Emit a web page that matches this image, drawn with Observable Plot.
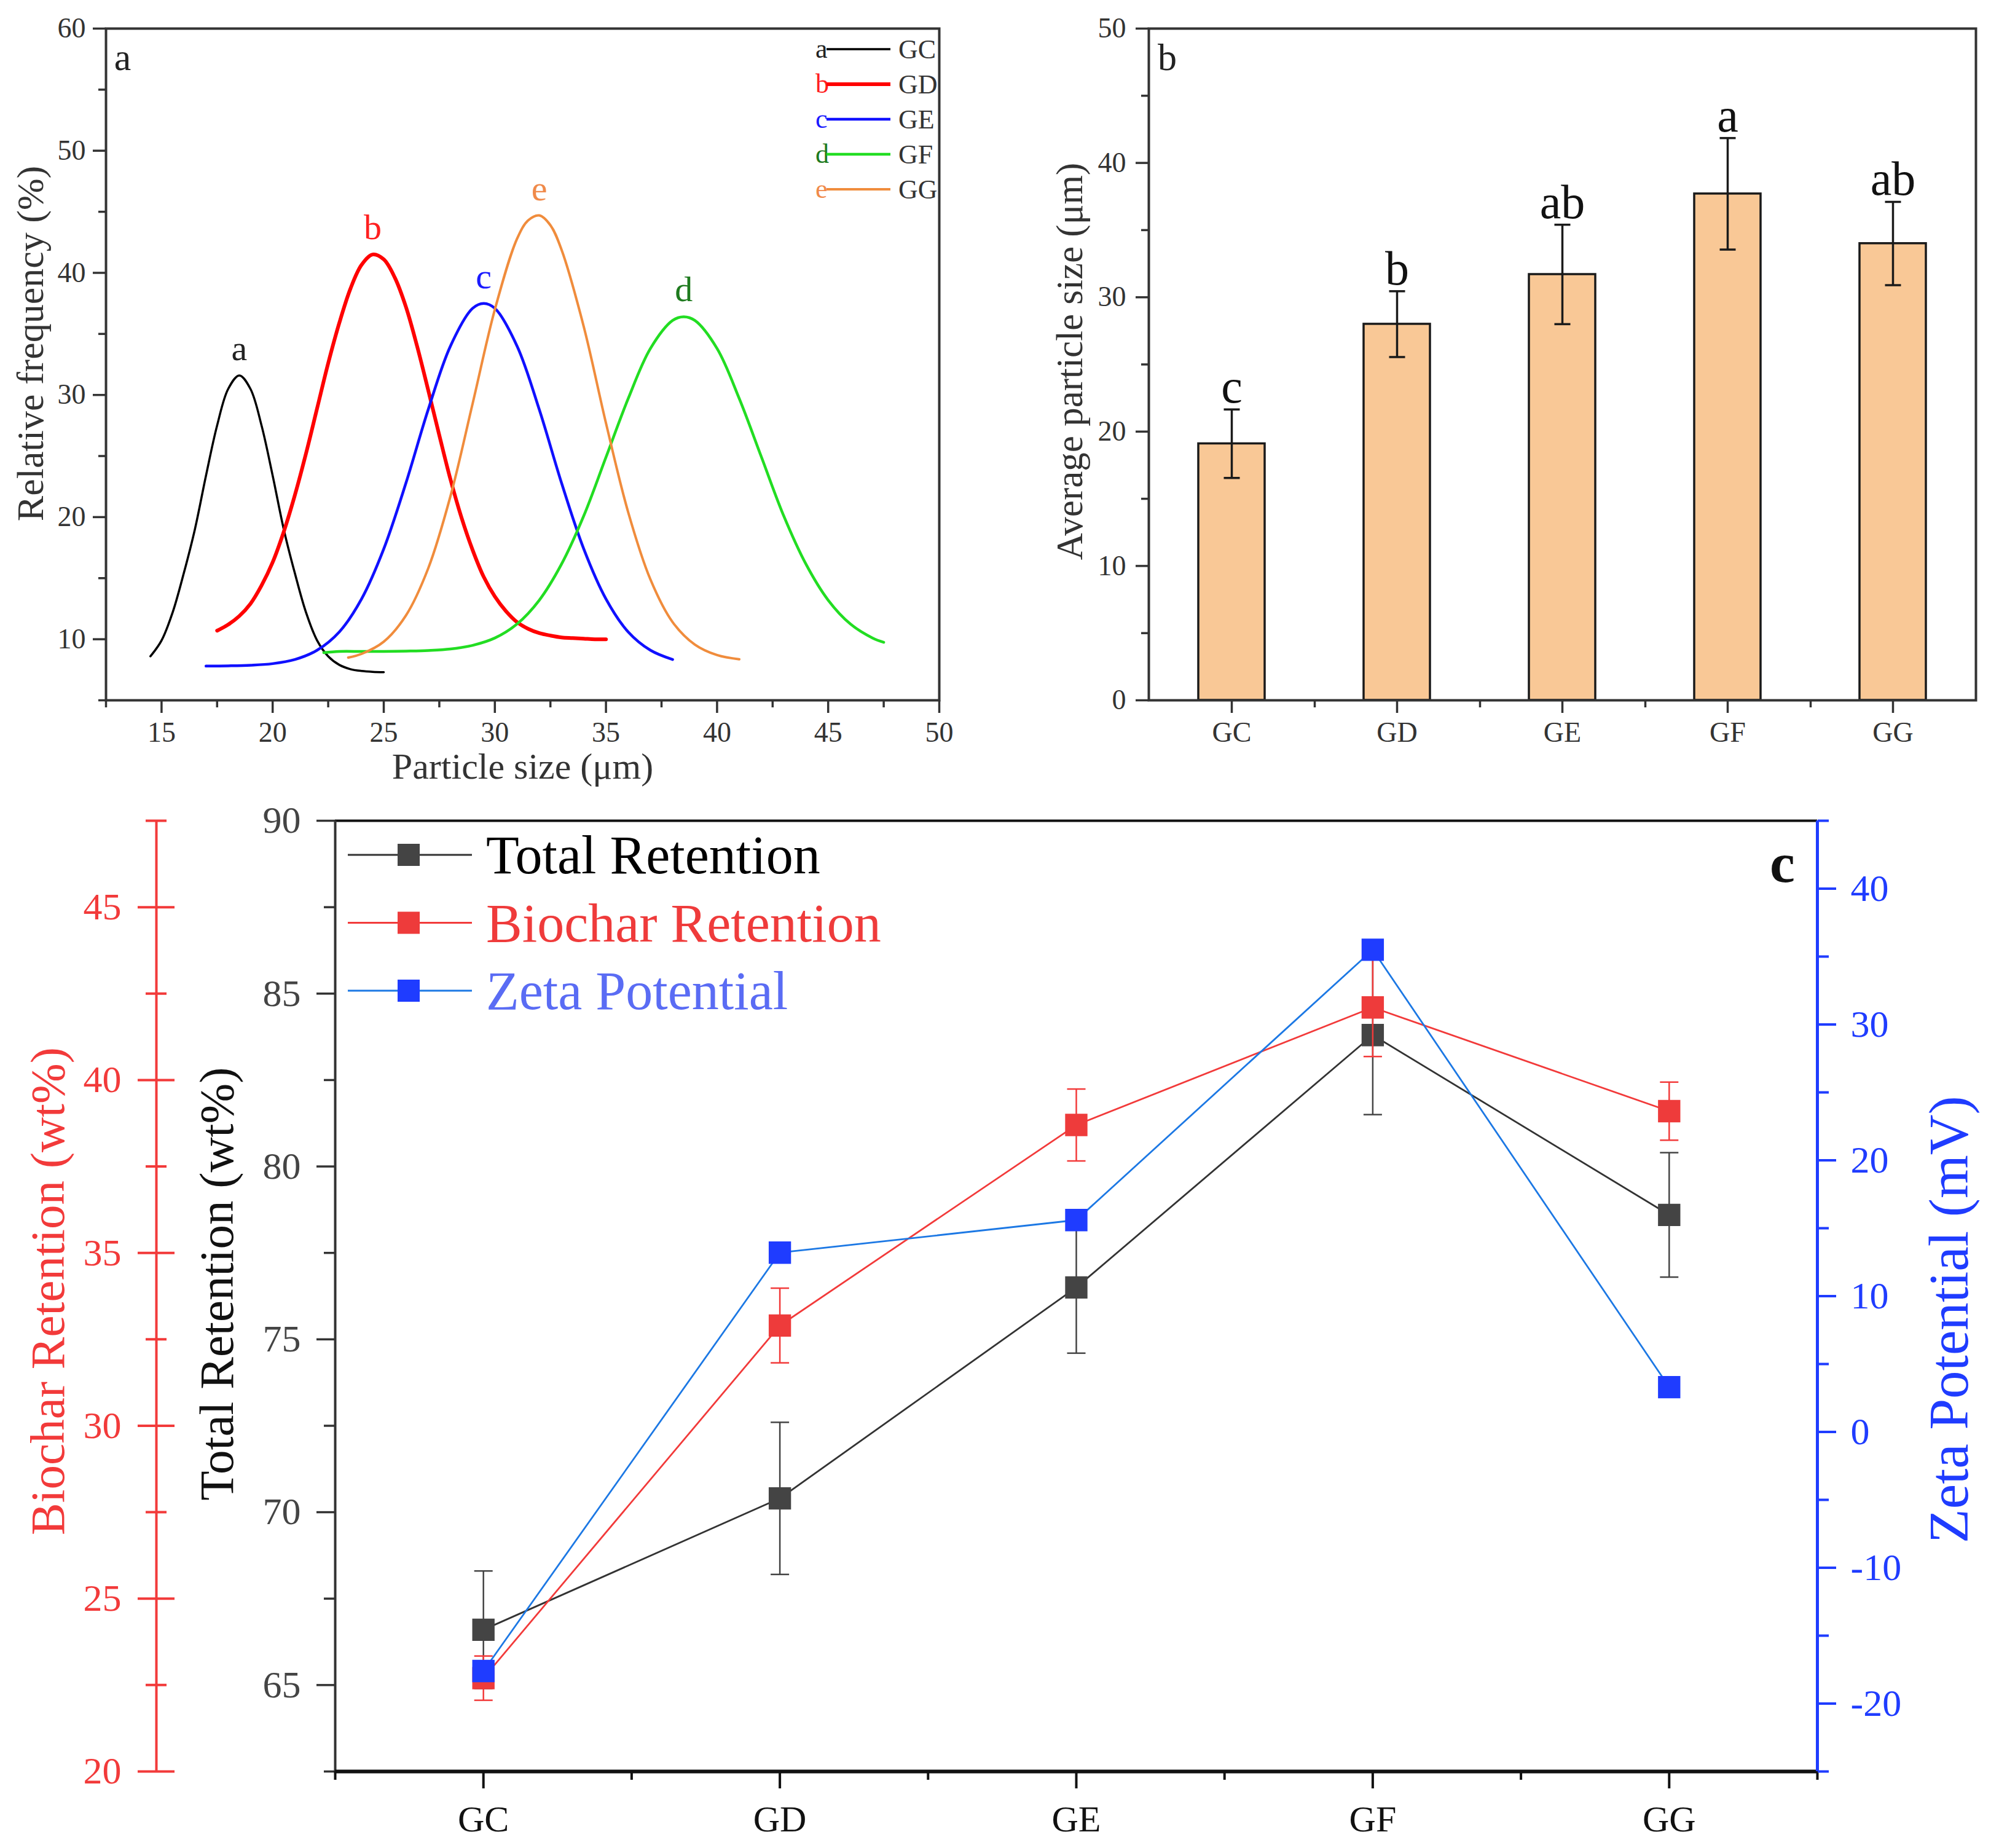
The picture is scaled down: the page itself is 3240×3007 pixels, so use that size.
<!DOCTYPE html>
<html><head><meta charset="utf-8">
<script src="https://cdn.jsdelivr.net/npm/d3@7"></script>
<script src="https://cdn.jsdelivr.net/npm/@observablehq/plot@0.6"></script>
<style>
body{margin:0;background:#fff;}
#root{position:relative;width:3240px;height:3007px;background:#fff;font-family:"Liberation Serif","Times New Roman",serif;overflow:hidden;}
</style></head><body><div id="root"></div>
<script>
// ---------- data ----------
const cats = ["GC","GD","GE","GF","GG"];
// panel a: particle size distributions
const sizeGC = [14.5,15,15.5,16,16.5,17,17.5,18,18.5,19,19.5,20,20.5,21,21.5,22,22.5,23,23.5,24,24.5,25];
const freqGC = [8.6,9.9,12.2,15.4,19.0,23.4,27.5,30.5,31.6,30.5,27.5,23.4,19.0,15.4,12.2,9.9,8.6,7.9,7.55,7.4,7.33,7.3];
const sizeGD = [17.5,18,18.5,19,19.5,20,20.5,21,21.5,22,22.5,23,23.5,24,24.5,25,25.5,26,26.5,27,27.5,28,28.5,29,29.5,30,30.5,31,31.5,32,32.5,33,33.5,34,34.5,35];
const freqGD = [10.7,11.2,11.9,12.9,14.4,16.3,18.8,21.8,25.2,28.9,32.6,35.9,38.7,40.65,41.5,41.1,39.6,37.2,34.0,30.4,26.7,23.1,19.95,17.3,15.1,13.5,12.3,11.4,10.85,10.5,10.3,10.15,10.1,10.05,10.0,10.0];
const sizeGE = [17,18,19,20,21,22,23,24,25,26,27,28,29,29.5,30,31,32,33,34,35,36,37,38];
const freqGE = [7.8,7.82,7.87,8.0,8.34,9.1,10.6,13.3,17.4,22.8,28.8,34.0,37.1,37.5,37.1,34.0,28.8,22.8,17.4,13.3,10.6,9.1,8.34];
const sizeGF = [22.3,23,24,25,26,27,28,29,30,31,32,33,34,35,36,37,38,38.5,39,40,41,42,43,44,45,46,47,47.5];
const freqGF = [8.9,9.0,9.0,9.0,9.03,9.08,9.2,9.5,10.1,11.25,13.2,16.15,20.1,24.9,29.7,33.8,36.1,36.4,36.1,33.8,29.7,24.9,20.1,16.15,13.2,11.25,10.1,9.75];
const sizeGG = [23.4,24,25,26,27,28,29,30,31,31.5,32,32.5,33,34,35,36,37,38,39,40,41];
const freqGG = [8.5,8.8,9.8,11.95,15.8,21.7,29.3,37.0,42.8,44.3,44.7,43.9,41.9,35.6,27.7,20.4,14.9,11.4,9.56,8.7,8.36];
const curveLetters = ["a","b","c","d","e"];
const xTicksA = [15,20,25,30,35,40,45,50];
const yTicksA = [10,20,30,40,50,60];
// panel b: average particle size
const avgSize = [19.1, 28.0, 31.7, 37.7, 34.0];
const avgErr = [2.55, 2.45, 3.7, 4.15, 3.1];
const avgLetters = ["c","b","ab","a","ab"];
const yTicksB = [0,10,20,30,40,50];
// panel c: retention and zeta potential
const totalRet = [66.6, 70.4, 76.5, 83.8, 78.6];
const totalErr = [1.7, 2.2, 1.9, 2.3, 1.8];
const biocharRet = [22.7, 32.9, 38.7, 42.1, 39.1];
const biocharErr = [0.64, 1.08, 1.04, 1.42, 0.84];
const zetaPot = [-17.6, 13.2, 15.6, 35.5, 3.3];
const totalTicks = [65,70,75,80,85,90];
const biocharTicks = [20,25,30,35,40,45];
const zetaTicks = [-20,-10,0,10,20,30,40];

// ---------- helpers ----------
const root = document.getElementById("root");
const FONT = "Liberation Serif, Times New Roman, serif";
const fmt = d => String(d);
const hline = {draw(ctx, size){ const r = Math.sqrt(size/Math.PI); ctx.moveTo(-r,0); ctx.lineTo(r,0); }};
function place(el, left, top){ el.style.position="absolute"; el.style.left=left+"px"; el.style.top=top+"px"; el.style.maxWidth="none"; root.appendChild(el); return el; }
const minorBetween = (t, step) => t.slice(0,-1).map(v => v + step/2);
const title = (s, o) => Plot.text([s], {textAnchor:"middle", lineAnchor:"middle", ...o});

// ---------- panel a ----------
const seriesA = [
  {name:"GC", x:sizeGC, y:freqGC, color:"#000000", lab:"#222222", w:3.5},
  {name:"GD", x:sizeGD, y:freqGD, color:"#ff0000", lab:"#ff2020", w:6},
  {name:"GE", x:sizeGE, y:freqGE, color:"#1010ff", lab:"#1a1aff", w:4.5},
  {name:"GF", x:sizeGF, y:freqGF, color:"#22dd22", lab:"#1e7a1e", w:4.5},
  {name:"GG", x:sizeGG, y:freqGG, color:"#f08c3c", lab:"#f08a4a", w:4}
];
const rowsA = seriesA.map((s,k)=>s.x.map((x,i)=>({x, y:s.y[i], k})));
const peaksA = seriesA.map((s,k)=>{ const p = d3.greatest(rowsA[k], d=>d.y); return {x:p.x, y:p.y, letter:curveLetters[k], color:s.lab}; });

const plotA = Plot.plot({
  width:1560, height:1290, marginLeft:172, marginRight:32, marginTop:46, marginBottom:151,
  style:{fontFamily:FONT, background:"transparent", overflow:"visible", color:"#333"},
  x:{domain:[12.5,50], label:null},
  y:{domain:[5,60], label:null},
  marks:[
    ...seriesA.map((s,k)=>Plot.line(rowsA[k], {x:"x", y:"y", stroke:s.color, strokeWidth:s.w, curve:"catmull-rom"})),
    Plot.text(peaksA, {x:"x", y:"y", text:"letter", fill:d=>d.color, fontSize:58, lineAnchor:"bottom", dy:-25}),
    Plot.frame({stroke:"#333", strokeWidth:4}),
    Plot.axisX(xTicksA, {tickSize:21, tickPadding:14, fontSize:46, strokeWidth:3.5, fill:"#333", tickFormat:fmt, label:null}),
    Plot.axisX([12.5, ...minorBetween(xTicksA,5)], {tickSize:12, tickFormat:()=>"", strokeWidth:3.5, label:null}),
    Plot.axisY(yTicksA, {tickSize:21, tickPadding:12, fontSize:46, strokeWidth:3.5, fill:"#333", tickFormat:fmt, label:null}),
    Plot.axisY([5, ...minorBetween(yTicksA,10)], {tickSize:12, tickFormat:()=>"", strokeWidth:3.5, label:null}),
    title("Particle size (μm)", {frameAnchor:"bottom", dy:108, fontSize:60, fill:"#333"}),
    title("Relative frequency (%)", {frameAnchor:"left", rotate:-90, dx:-122, dy:-34, fontSize:62, fill:"#333"}),
    title("a", {frameAnchor:"top-left", dx:27, dy:48, fontSize:62, fill:"#222"})
  ]
});
place(plotA, 0, 0);
{
  const g = d3.select(plotA).append("g").attr("font-size", 44).attr("text-anchor","start");
  seriesA.forEach((s,k)=>{
    const y = 80 + k*57;
    g.append("text").attr("x",1327).attr("y",y+14).attr("fill",s.lab).text(curveLetters[k]);
    g.append("line").attr("x1",1345).attr("x2",1449).attr("y1",y).attr("y2",y).attr("stroke",s.color).attr("stroke-width",s.w);
    g.append("text").attr("x",1462).attr("y",y+15).attr("fill","#333").text(s.name);
  });
}

// ---------- panel b ----------
const rowsB = cats.map((c,i)=>({cat:c, v:avgSize[i], e:avgErr[i], letter:avgLetters[i]}));
const plotB = Plot.plot({
  width:1640, height:1290, marginLeft:269, marginRight:25, marginTop:46, marginBottom:151,
  style:{fontFamily:FONT, background:"transparent", overflow:"visible", color:"#333"},
  x:{domain:cats, paddingInner:0.6, paddingOuter:0.3, label:null},
  y:{domain:[0,50], label:null},
  marks:[
    Plot.barY(rowsB, {x:"cat", y:"v", fill:"#f9c896", stroke:"#1a1a1a", strokeWidth:3.5, inset:0}),
    Plot.ruleX(rowsB, {x:"cat", y1:d=>d.v-d.e, y2:d=>d.v+d.e, stroke:"#1a1a1a", strokeWidth:3.5}),
    Plot.dot(rowsB, {x:"cat", y:d=>d.v-d.e, symbol:hline, r:13, fill:"none", stroke:"#1a1a1a", strokeWidth:3.5}),
    Plot.dot(rowsB, {x:"cat", y:d=>d.v+d.e, symbol:hline, r:13, fill:"none", stroke:"#1a1a1a", strokeWidth:3.5}),
    Plot.text(rowsB, {x:"cat", y:d=>d.v+d.e, text:"letter", lineAnchor:"bottom", dy:-11, fontSize:78, fill:"#111"}),
    Plot.frame({stroke:"#333", strokeWidth:4}),
    Plot.axisY(yTicksB, {tickSize:21, tickPadding:16, fontSize:46, strokeWidth:3.5, fill:"#333", tickFormat:fmt, label:null}),
    Plot.axisY(minorBetween(yTicksB,10), {tickSize:12, tickFormat:()=>"", strokeWidth:3.5, label:null}),
    Plot.axisX(cats, {tickSize:21, tickPadding:14, fontSize:46, strokeWidth:3.5, fill:"#333", label:null}),
    Plot.axisX(cats.slice(0,4), {tickSize:12, tickFormat:()=>"", strokeWidth:3.5, dx:135, label:null}),
    title("Average particle size (μm)", {frameAnchor:"left", rotate:-90, dx:-128, dy:-5, fontSize:61, fill:"#333"}),
    title("b", {frameAnchor:"top-left", dx:30, dy:48, fontSize:62, fill:"#222"})
  ]
});
place(plotB, 1600, 0);

// ---------- panel c ----------
const idx = cats.map((c,i)=>i);
const dimsC = {width:3240, height:1717, marginLeft:545, marginRight:283, marginTop:45, marginBottom:125};
const styleC = {fontFamily:FONT, background:"transparent", overflow:"visible", color:"#222"};
function seriesMarks(vals, errs, lineColor, markColor, errColor){
  const rows = idx.map(i=>({i, v:vals[i], e:errs ? errs[i] : 0}));
  const m = [];
  if (errs) {
    m.push(Plot.ruleX(rows, {x:"i", y1:d=>d.v-d.e, y2:d=>d.v+d.e, stroke:errColor, strokeWidth:2.5}));
    m.push(Plot.dot(rows, {x:"i", y:d=>d.v-d.e, symbol:hline, r:15, fill:"none", stroke:errColor, strokeWidth:2.5}));
    m.push(Plot.dot(rows, {x:"i", y:d=>d.v+d.e, symbol:hline, r:15, fill:"none", stroke:errColor, strokeWidth:2.5}));
  }
  m.push(Plot.line(rows, {x:"i", y:"v", stroke:lineColor, strokeWidth:2.8}));
  m.push(Plot.dot(rows, {x:"i", y:"v", symbol:"square", r:20.5, fill:markColor, stroke:"none"}));
  return m;
}
const RED = "#f23a3a", BLUE = "#1f3cff";

const plotC1 = Plot.plot({
  ...dimsC, style:styleC, x:{domain:[-0.5,4.5], label:null}, y:{domain:[62.5,90], label:null},
  marks:[
    Plot.ruleY([90], {stroke:"#111", strokeWidth:4}),
    Plot.ruleX([-0.5], {stroke:"#333", strokeWidth:4}),
    ...seriesMarks(totalRet, totalErr, "#333333", "#444444", "#444444"),
    Plot.ruleY([62.5], {stroke:"#111", strokeWidth:6}),
    Plot.axisY(totalTicks, {tickSize:30, tickPadding:26, fontSize:62, strokeWidth:3.5, stroke:"#333", fill:"#444", tickFormat:fmt, label:null}),
    Plot.axisY([62.5, ...minorBetween(totalTicks,5)], {tickSize:18, tickFormat:()=>"", strokeWidth:3.5, stroke:"#333", label:null}),
    Plot.axisX(idx, {tickSize:28, tickPadding:27, fontSize:60, strokeWidth:4, stroke:"#111", fill:"#111", tickFormat:i=>cats[i], label:null}),
    Plot.axisX([-0.5, ...idx.map(i=>i+0.5)], {tickSize:14, tickFormat:()=>"", strokeWidth:4, stroke:"#111", label:null}),
    title("Total Retention (wt%)", {frameAnchor:"left", rotate:-90, dx:-192, dy:-20, fontSize:79, fill:"#111"}),
    title("c", {frameAnchor:"top-right", dx:-57, dy:70, fontSize:92, fontWeight:"bold", fill:"#111"})
  ]
});
place(plotC1, 0, 1290);

const plotC2 = Plot.plot({
  ...dimsC, style:styleC, x:{domain:[-0.5,4.5], label:null, axis:null}, y:{domain:[20,47.5], label:null},
  marks:[
    ...seriesMarks(biocharRet, biocharErr, RED, "#ee3b3b", RED),
    Plot.ruleX([-0.5], {dx:-291, stroke:RED, strokeWidth:4}),
    Plot.axisY(biocharTicks, {tickSize:60, dx:-261, tickPadding:27, fontSize:62, strokeWidth:4, stroke:RED, fill:RED, tickFormat:fmt, label:null}),
    Plot.axisY(minorBetween(biocharTicks,5).concat([47.5]), {tickSize:34, dx:-274, tickFormat:()=>"", strokeWidth:4, stroke:RED, label:null}),
    title("Biochar Retention (wt%)", {frameAnchor:"left", rotate:-90, dx:-467, dy:-8, fontSize:79, fill:RED})
  ]
});
place(plotC2, 0, 1290);

const plotC3 = Plot.plot({
  ...dimsC, style:styleC, x:{domain:[-0.5,4.5], label:null, axis:null}, y:{domain:[-25,45], label:null},
  marks:[
    ...seriesMarks(zetaPot, null, "#1c78e4", BLUE, BLUE),
    Plot.ruleX([4.5], {stroke:BLUE, strokeWidth:5}),
    Plot.axisY(zetaTicks, {anchor:"right", tickSize:30, tickPadding:24, fontSize:62, strokeWidth:4, stroke:BLUE, fill:BLUE, tickFormat:fmt, label:null}),
    Plot.axisY([-25, ...minorBetween(zetaTicks,10), 45], {anchor:"right", tickSize:18, tickFormat:()=>"", strokeWidth:4, stroke:BLUE, label:null}),
    title("Zeta Potential (mV)", {frameAnchor:"right", rotate:-90, dx:215, dy:38, fontSize:91, fill:BLUE})
  ]
});
place(plotC3, 0, 1290);

// legend for panel c
{
  const items = [
    {label:"Total Retention", line:"#333333", mark:"#444444", text:"#000000"},
    {label:"Biochar Retention", line:RED, mark:"#ee3b3b", text:"#ef3b3b"},
    {label:"Zeta Potential", line:"#1c78e4", mark:BLUE, text:"#5a6cf4"}
  ];
  const g = d3.select(plotC3).append("g").attr("font-size", 88).attr("text-anchor","start");
  items.forEach((it,k)=>{
    const y = 101 + k*110.5;
    g.append("line").attr("x1",566).attr("x2",768).attr("y1",y).attr("y2",y).attr("stroke",it.line).attr("stroke-width",2.8);
    g.append("rect").attr("x",665-18).attr("y",y-18).attr("width",36).attr("height",36).attr("fill",it.mark);
    g.append("text").attr("x",791).attr("y",y+30).attr("fill",it.text).text(it.label);
  });
}
</script></body></html>
